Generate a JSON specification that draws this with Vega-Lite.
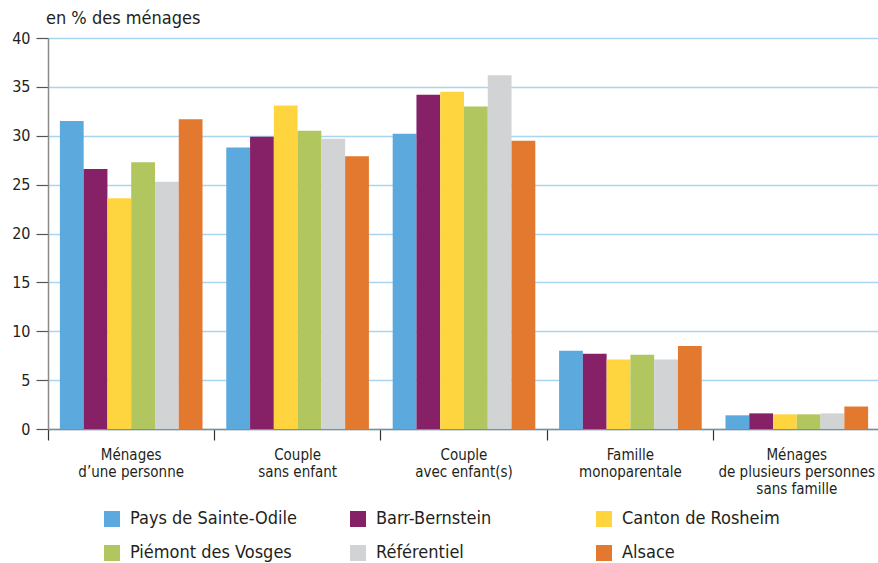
{
  "$schema": "https://vega.github.io/schema/vega-lite/v6.json",
  "autosize": {"type": "none"},
  "width": 832,
  "height": 391,
  "padding": {"left": 48, "top": 38, "right": 0, "bottom": 134},
  "background": "white",
  "config": {
    "font": "DejaVu Sans Condensed, Liberation Sans, sans-serif",
    "view": {"stroke": null}
  },
  "title": {
    "text": "en % des ménages",
    "anchor": "start",
    "frame": "group",
    "fontSize": 18,
    "fontWeight": "normal",
    "color": "#231f20",
    "offset": 2,
    "dx": -2
  },
  "data": {
    "values": [
      {"cat": "Ménages|d’une personne", "zone": "Pays de Sainte-Odile", "v": 31.5},
      {"cat": "Ménages|d’une personne", "zone": "Barr-Bernstein", "v": 26.6},
      {"cat": "Ménages|d’une personne", "zone": "Canton de Rosheim", "v": 23.6},
      {"cat": "Ménages|d’une personne", "zone": "Piémont des Vosges", "v": 27.3},
      {"cat": "Ménages|d’une personne", "zone": "Référentiel", "v": 25.3},
      {"cat": "Ménages|d’une personne", "zone": "Alsace", "v": 31.7},
      {"cat": "Couple|sans enfant", "zone": "Pays de Sainte-Odile", "v": 28.8},
      {"cat": "Couple|sans enfant", "zone": "Barr-Bernstein", "v": 29.9},
      {"cat": "Couple|sans enfant", "zone": "Canton de Rosheim", "v": 33.1},
      {"cat": "Couple|sans enfant", "zone": "Piémont des Vosges", "v": 30.5},
      {"cat": "Couple|sans enfant", "zone": "Référentiel", "v": 29.7},
      {"cat": "Couple|sans enfant", "zone": "Alsace", "v": 27.9},
      {"cat": "Couple|avec enfant(s)", "zone": "Pays de Sainte-Odile", "v": 30.2},
      {"cat": "Couple|avec enfant(s)", "zone": "Barr-Bernstein", "v": 34.2},
      {"cat": "Couple|avec enfant(s)", "zone": "Canton de Rosheim", "v": 34.5},
      {"cat": "Couple|avec enfant(s)", "zone": "Piémont des Vosges", "v": 33.0},
      {"cat": "Couple|avec enfant(s)", "zone": "Référentiel", "v": 36.2},
      {"cat": "Couple|avec enfant(s)", "zone": "Alsace", "v": 29.5},
      {"cat": "Famille|monoparentale", "zone": "Pays de Sainte-Odile", "v": 8.0},
      {"cat": "Famille|monoparentale", "zone": "Barr-Bernstein", "v": 7.7},
      {"cat": "Famille|monoparentale", "zone": "Canton de Rosheim", "v": 7.1},
      {"cat": "Famille|monoparentale", "zone": "Piémont des Vosges", "v": 7.6},
      {"cat": "Famille|monoparentale", "zone": "Référentiel", "v": 7.1},
      {"cat": "Famille|monoparentale", "zone": "Alsace", "v": 8.5},
      {"cat": "Ménages|de plusieurs personnes|sans famille", "zone": "Pays de Sainte-Odile", "v": 1.4},
      {"cat": "Ménages|de plusieurs personnes|sans famille", "zone": "Barr-Bernstein", "v": 1.6},
      {"cat": "Ménages|de plusieurs personnes|sans famille", "zone": "Canton de Rosheim", "v": 1.5},
      {"cat": "Ménages|de plusieurs personnes|sans famille", "zone": "Piémont des Vosges", "v": 1.5},
      {"cat": "Ménages|de plusieurs personnes|sans famille", "zone": "Référentiel", "v": 1.6},
      {"cat": "Ménages|de plusieurs personnes|sans famille", "zone": "Alsace", "v": 2.3}
    ]
  },
  "mark": {"type": "bar"},
  "encoding": {
    "x": {
      "field": "cat",
      "type": "nominal",
      "sort": null,
      "scale": {"paddingInner": 0, "paddingOuter": 0},
      "axis": {
        "title": null,
        "labelAngle": 0,
        "labelExpr": "split(datum.label, '|')",
        "labelFontSize": 15,
        "labelColor": "#231f20",
        "labelLineHeight": 17,
        "labelPadding": 7,
        "labelBaseline": "top",
        "labelOverlap": false,
        "tickSize": 11,
        "tickColor": "#333333",
        "tickWidth": 1.2,
        "bandPosition": 0,
        "domainColor": "#8a8a8a",
        "domainWidth": 1.5
      }
    },
    "xOffset": {
      "field": "zone",
      "type": "nominal",
      "sort": ["Pays de Sainte-Odile", "Barr-Bernstein", "Canton de Rosheim", "Piémont des Vosges", "Référentiel", "Alsace"],
      "scale": {"paddingInner": 0, "paddingOuter": 0.5}
    },
    "y": {
      "field": "v",
      "type": "quantitative",
      "scale": {"domain": [0, 40], "nice": false},
      "axis": {
        "title": null,
        "values": [0, 5, 10, 15, 20, 25, 30, 35, 40],
        "labelFontSize": 16,
        "labelColor": "#231f20",
        "labelPadding": 6,
        "tickSize": 12,
        "tickColor": "#555555",
        "tickWidth": 1.2,
        "domainColor": "#8a8a8a",
        "domainWidth": 1.5,
        "grid": true,
        "gridColor": "#a9d5f0",
        "gridWidth": 1.5
      }
    },
    "color": {
      "field": "zone",
      "type": "nominal",
      "scale": {
        "domain": ["Pays de Sainte-Odile", "Barr-Bernstein", "Canton de Rosheim", "Piémont des Vosges", "Référentiel", "Alsace"],
        "range": ["#5ca9dd", "#862167", "#ffd53f", "#b1c65e", "#d2d3d5", "#e2792e"]
      },
      "legend": {
        "title": null,
        "orient": "none",
        "legendX": 55,
        "legendY": 472,
        "direction": "horizontal",
        "columns": 3,
        "gridAlign": "all",
        "columnPadding": 51,
        "rowPadding": 16,
        "symbolType": "square",
        "symbolSize": 256,
        "symbolStrokeWidth": 0,
        "symbolOpacity": 1,
        "labelFontSize": 18,
        "labelColor": "#231f20",
        "labelOffset": 9,
        "labelLimit": 300
      }
    }
  }
}
